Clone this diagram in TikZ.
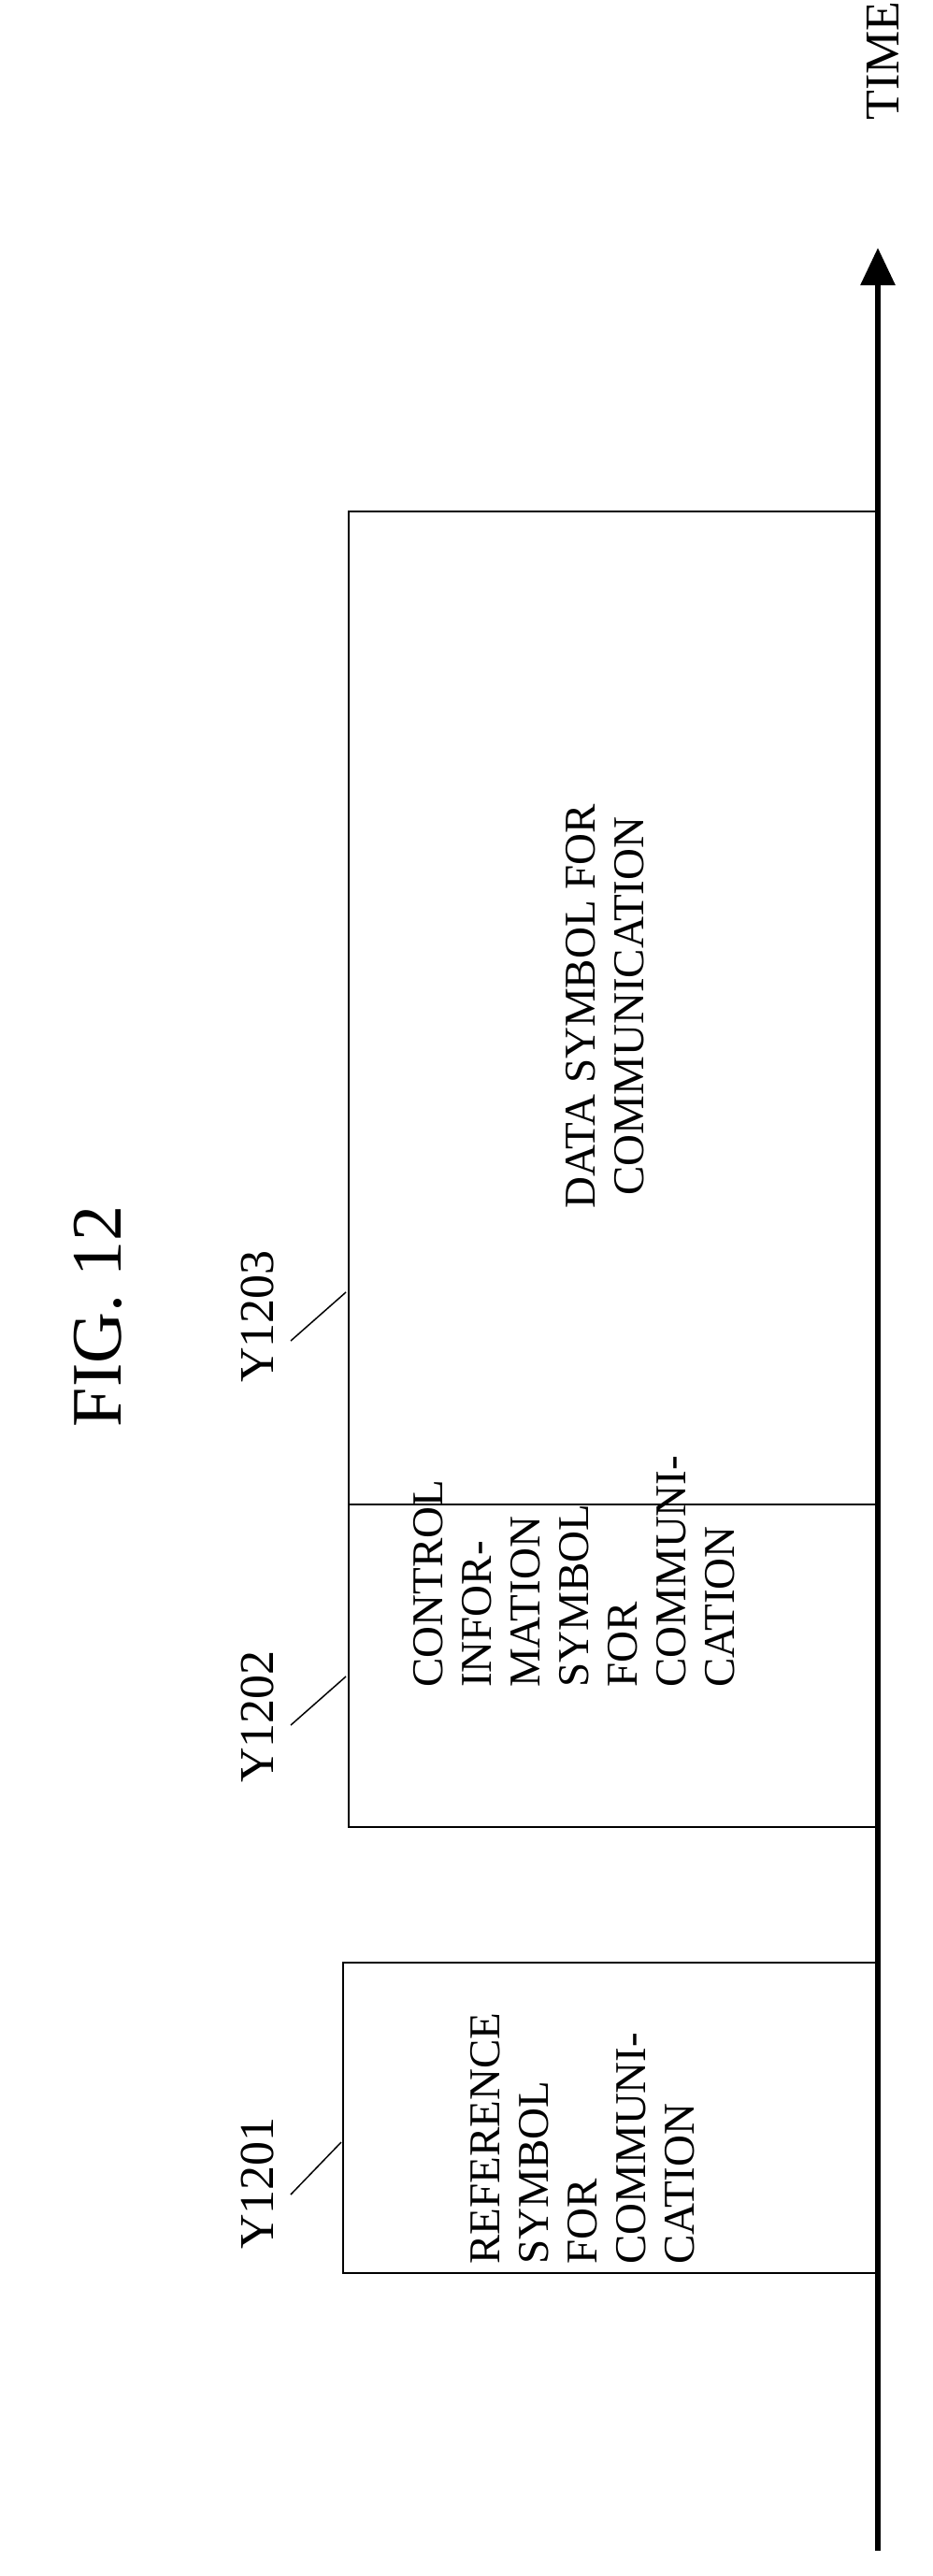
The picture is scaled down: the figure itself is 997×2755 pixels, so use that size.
\documentclass[tikz,border=0pt]{standalone}
\usepackage{fontspec}
\setmainfont{Liberation Serif}
\usetikzlibrary{arrows.meta}
\begin{document}
\begin{tikzpicture}[x=1pt,y=-1pt,
  box/.style={draw,line width=2pt,inner sep=0pt},
  txt/.style={rotate=90,inner sep=0pt,font=\fontsize{47}{52}\selectfont,align=left},
  lbl/.style={rotate=90,inner sep=0pt,font=\fontsize{52}{54}\selectfont},
  lead/.style={line width=1.5pt}]
\useasboundingbox (0,0) rectangle (997,2755);
\node[box,minimum width=572pt,minimum height=332pt] (b1) at (653,2265) {};
\node[box,minimum width=566pt,minimum height=345pt] (b2) at (656,1781.5) {};
\node[box,minimum width=566pt,minimum height=1062pt] (b3) at (656,1078) {};
\draw[line width=6pt,-{Triangle[length=40pt,width=36pt]}] (939,2728) coordinate (a0) -- (939,265) coordinate (a1);
\node[lbl] (time) at (944,65) {TIME};
\node[rotate=90,inner sep=0pt,font=\fontsize{76}{80}\selectfont] (fig) at (105,1408) {FIG. 12};
\node[txt,anchor=north west] (t1) at (503,2422) {REFERENCE\\SYMBOL\\FOR\\COMMUNI-\\CATION};
\node[txt,anchor=north west] (t2) at (442,1805) {CONTROL\\INFOR-\\MATION\\SYMBOL\\FOR\\COMMUNI-\\CATION};
\node[txt,align=center] (t3) at (647,1076) {DATA SYMBOL FOR\\COMMUNICATION};
\node[lbl] (l1) at (275,2335) {Y1201};
\node[lbl] (l2) at (275,1836) {Y1202};
\node[lbl] (l3) at (275,1408) {Y1203};
\coordinate (c1) at (311,2347); \coordinate (d1) at (365,2291);
\coordinate (c2) at (311,1845); \coordinate (d2) at (370,1793);
\coordinate (c3) at (311,1434); \coordinate (d3) at (370,1382);
\draw[lead] (c1) -- (d1);
\draw[lead] (c2) -- (d2);
\draw[lead] (c3) -- (d3);
\end{tikzpicture}
\end{document}
